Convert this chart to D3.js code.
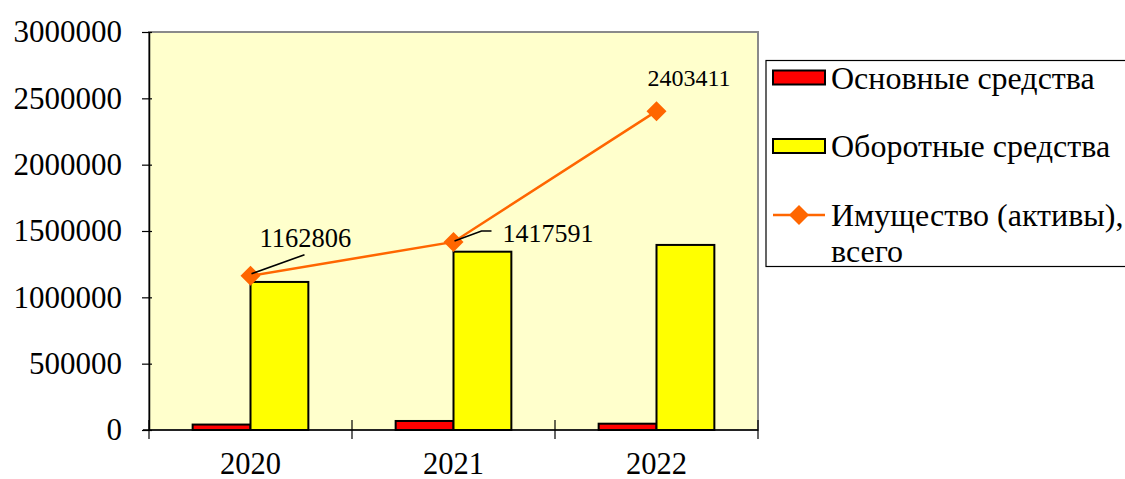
<!DOCTYPE html>
<html>
<head>
<meta charset="utf-8">
<script src="https://cdn.jsdelivr.net/npm/d3@7/dist/d3.min.js"></script>
<style>
html,body{margin:0;padding:0;background:#fff;}
svg{display:block;}
</style>
</head>
<body>
<svg id="chart" width="1125" height="479"></svg>
<script>
const categories = ["2020", "2021", "2022"];
const fixedAssets = [41000, 68000, 47500];
const currentAssets = [1116000, 1344000, 1395000];
const totalAssets = [1162806, 1417591, 2403411];
const yTicks = [0, 500000, 1000000, 1500000, 2000000, 2500000, 3000000];
const seriesNames = ["Основные средства", "Оборотные средства", ["Имущество (активы),", "всего"]];

const svg = d3.select("#chart");
const FONT = "serif";
const L = 149, R = 758, T = 32, B = 430;

const x = d3.scaleBand().domain(categories).range([L, R]).paddingInner(0).paddingOuter(0);
const y = d3.scaleLinear().domain([0, 3000000]).range([B, T]);
const bw = x.bandwidth() * 0.285;

// plot area
svg.append("rect").attr("x", L).attr("y", T).attr("width", R - L).attr("height", B - T)
  .attr("fill", "#FFFFCC").attr("stroke", "#8a8a8a").attr("stroke-width", 2);

// y axis
const yAxis = d3.axisLeft(y).tickValues(yTicks).tickSize(0).tickPadding(27).tickFormat(d3.format("d"));
const gy = svg.append("g").attr("transform", `translate(${L},0)`).call(yAxis);
gy.attr("font-family", null).attr("font-size", null);
gy.select(".domain").attr("stroke", "#000").attr("stroke-width", 1.5);
gy.selectAll(".tick text").attr("font-size", 31).attr("fill", "#000").style("font-family", FONT);
gy.selectAll(".tick").append("line").attr("x1", -7).attr("x2", 3).attr("stroke", "#000").attr("stroke-width", 1.2);

// bars
const cats = categories.map((c, i) => ({c, i}));
svg.append("g").selectAll("rect").data(cats).join("rect")
  .attr("x", d => x(d.c) + x.bandwidth() / 2 - bw)
  .attr("y", d => y(fixedAssets[d.i]))
  .attr("width", bw)
  .attr("height", d => y(0) - y(fixedAssets[d.i]))
  .attr("fill", "#FF0000").attr("stroke", "#000").attr("stroke-width", 2);
svg.append("g").selectAll("rect").data(cats).join("rect")
  .attr("x", d => x(d.c) + x.bandwidth() / 2)
  .attr("y", d => y(currentAssets[d.i]))
  .attr("width", bw)
  .attr("height", d => y(0) - y(currentAssets[d.i]))
  .attr("fill", "#FFFF00").attr("stroke", "#000").attr("stroke-width", 2);

// x axis
const gx = svg.append("g").attr("transform", `translate(0,${B})`);
gx.append("line").attr("x1", L - 6).attr("x2", R).attr("stroke", "#000").attr("stroke-width", 1.5);
const bounds = categories.map(c => x(c)).concat([R]);
gx.selectAll("line.tk").data(bounds).join("line").attr("class", "tk")
  .attr("x1", d => d).attr("x2", d => d).attr("y1", -10).attr("y2", 9)
  .attr("stroke", "#000").attr("stroke-width", 1.2);
gx.selectAll("text").data(categories).join("text")
  .attr("x", d => x(d) + x.bandwidth() / 2).attr("y", 43.5)
  .attr("text-anchor", "middle").attr("font-size", 30.5).style("font-family", FONT).text(d => d);

// total line
const cx = i => x(categories[i]) + x.bandwidth() / 2;
const line = d3.line().x((d, i) => cx(i)).y(d => y(d));
svg.append("path").datum(totalAssets).attr("d", line)
  .attr("fill", "none").attr("stroke", "#FF6600").attr("stroke-width", 2.5);
const diamond = (px, py, r) => `M${px},${py - r}L${px + r},${py}L${px},${py + r}L${px - r},${py}Z`;
svg.append("g").selectAll("path").data(totalAssets).join("path")
  .attr("d", (d, i) => diamond(cx(i), y(d), 10)).attr("fill", "#FF6600");

// leader lines
const p0 = [cx(0), y(totalAssets[0])], p1 = [cx(1), y(totalAssets[1])];
svg.append("path").attr("d", `M${p0[0] + 1},${p0[1] - 2}L${p0[0] + 54},${p0[1] - 21}`)
  .attr("stroke", "#000").attr("stroke-width", 1.6).attr("fill", "none");
svg.append("path").attr("d", `M${p1[0] + 1},${p1[1] - 1}L${p1[0] + 28},${p1[1] - 11}L${p1[0] + 38},${p1[1] - 11}`)
  .attr("stroke", "#000").attr("stroke-width", 1.6).attr("fill", "none");

// data labels
const lblOff = [[9, -29, 26.5], [49, 0, 26], [-9, -25, 24]];
svg.append("g").selectAll("text").data(totalAssets).join("text")
  .attr("x", (d, i) => cx(i) + lblOff[i][0])
  .attr("y", (d, i) => y(d) + lblOff[i][1])
  .attr("font-size", (d, i) => lblOff[i][2])
  .style("font-family", FONT)
  .text(d => d);

// legend
const lg = svg.append("g");
lg.append("rect").attr("x", 766).attr("y", 60.5).attr("width", 400).attr("height", 206)
  .attr("fill", "#fff").attr("stroke", "#000").attr("stroke-width", 1.2);
const rowY = [77.5, 146, 215];
lg.append("rect").attr("x", 773).attr("y", rowY[0] - 7).attr("width", 52).attr("height", 14)
  .attr("fill", "#FF0000").attr("stroke", "#000").attr("stroke-width", 2);
lg.append("rect").attr("x", 773).attr("y", rowY[1] - 7).attr("width", 52).attr("height", 14)
  .attr("fill", "#FFFF00").attr("stroke", "#000").attr("stroke-width", 2);
lg.append("line").attr("x1", 773).attr("x2", 825).attr("y1", rowY[2]).attr("y2", rowY[2])
  .attr("stroke", "#FF6600").attr("stroke-width", 2.5);
lg.append("path").attr("d", diamond(799, rowY[2], 10)).attr("fill", "#FF6600");
seriesNames.forEach((n, i) => {
  const t = lg.append("text").attr("x", 831).attr("y", rowY[i] + 11).attr("font-size", 32).style("font-family", FONT);
  if (Array.isArray(n)) {
    n.forEach((s, j) => t.append("tspan").attr("x", 831).attr("dy", j === 0 ? 0 : 36).text(s));
  } else t.text(n);
});
</script>
</body>
</html>
